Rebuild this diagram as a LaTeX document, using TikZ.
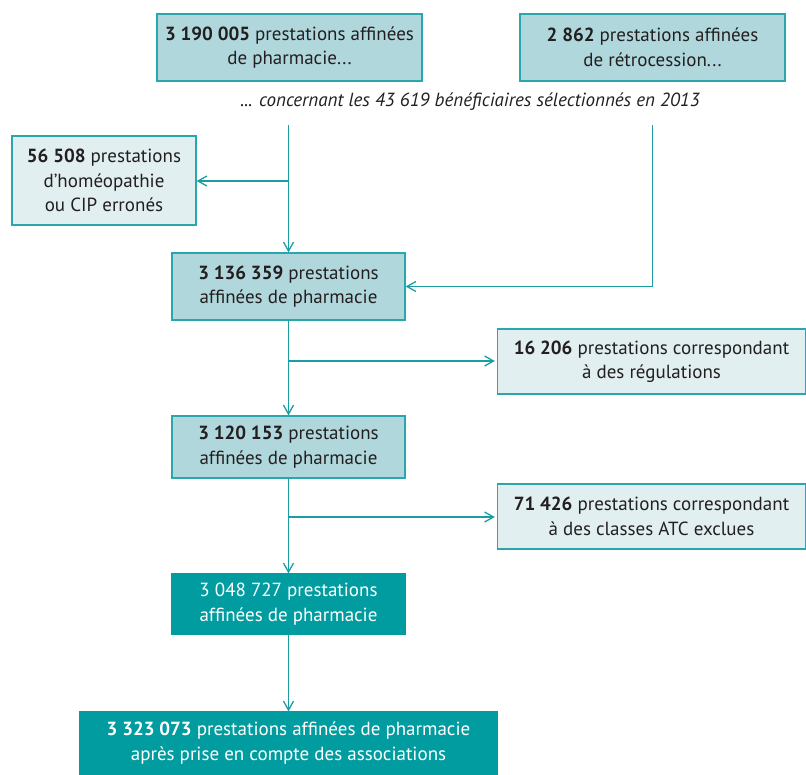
\documentclass[tikz,border=0pt]{standalone}
\usepackage{fontspec}
\setmainfont{PT Sans}
\usetikzlibrary{arrows.meta}
\definecolor{lightbox}{HTML}{B0D8DC}
\definecolor{paleBox}{HTML}{E1EFF0}
\definecolor{edge}{HTML}{2AA7AC}
\definecolor{darkbox}{HTML}{009C9F}
\definecolor{linecol}{HTML}{1A9EA3}
\definecolor{txt}{HTML}{231F20}
\begin{document}
\begin{tikzpicture}[x=1pt,y=-1pt,
  every node/.style={font=\fontsize{19}{24.5}\selectfont, text=txt, align=center, inner sep=0pt},
  boxbase/.style={draw=edge, line width=1.2pt, rectangle},
  lightbox/.style={boxbase, fill=lightbox},
  palebox/.style={boxbase, fill=paleBox},
  darkbox/.style={boxbase, fill=darkbox, draw=darkbox, text=white},
  conn/.style={draw=linecol, line width=1.3pt, -{Straight Barb[length=9pt,width=10pt,line width=1.3pt]}}]
\useasboundingbox (0,0) rectangle (806,774);

\node[lightbox, minimum width=265, minimum height=67] (A) at (289.5,47.5) {\textbf{3 190 005} prestations affinées\\de pharmacie...};
\node[lightbox, minimum width=265, minimum height=67] (B) at (652.5,47.5) {\textbf{2 862} prestations affinées\\de rétrocession...};
\node (T) at (470,102) {\itshape ... concernant les 43 619 bénéficiaires sélectionnés en 2013};

\node[palebox, minimum width=184, minimum height=89] (D) at (104,180.5) {\textbf{56 508} prestations\\d’homéopathie\\ou CIP erronés};
\node[lightbox, minimum width=233, minimum height=67] (C) at (288.5,286.5) {\textbf{3 136 359} prestations\\affinées de pharmacie};
\node[palebox, minimum width=308, minimum height=65] (F) at (651.5,361.5) {\textbf{16 206} prestations correspondant\\à des régulations};
\node[lightbox, minimum width=233, minimum height=62] (E) at (288.5,447) {\textbf{3 120 153} prestations\\affinées de pharmacie};
\node[palebox, minimum width=308, minimum height=65] (H) at (651.5,516.5) {\textbf{71 426} prestations correspondant\\à des classes ATC exclues};
\node[darkbox, minimum width=233, minimum height=60] (G) at (288.5,604) {3 048 727 prestations\\affinées de pharmacie};
\node[darkbox, minimum width=417, minimum height=62] (I) at (288.5,743) {\textbf{3 323 073} prestations affinées de pharmacie\\après prise en compte des associations};

\coordinate (s1) at (288.5,125);
\coordinate (s2) at (652.5,125);
\coordinate (b1) at (288.5,181);
\coordinate (b2) at (288.5,361);
\coordinate (b3) at (288.5,517);

\draw[conn] (s1) -- (C.north);
\draw[conn] (b1) -- (b1 -| D.east);
\draw[conn] (s2) |- (C.east);
\draw[conn] (C.south) -- (E.north);
\draw[conn] (b2) -- ([xshift=-2pt]b2 -| F.west);
\draw[conn] (E.south) -- (G.north);
\draw[conn] (b3) -- ([xshift=-2pt]b3 -| H.west);
\draw[conn] (G.south) -- (I.north);
\end{tikzpicture}
\end{document}
